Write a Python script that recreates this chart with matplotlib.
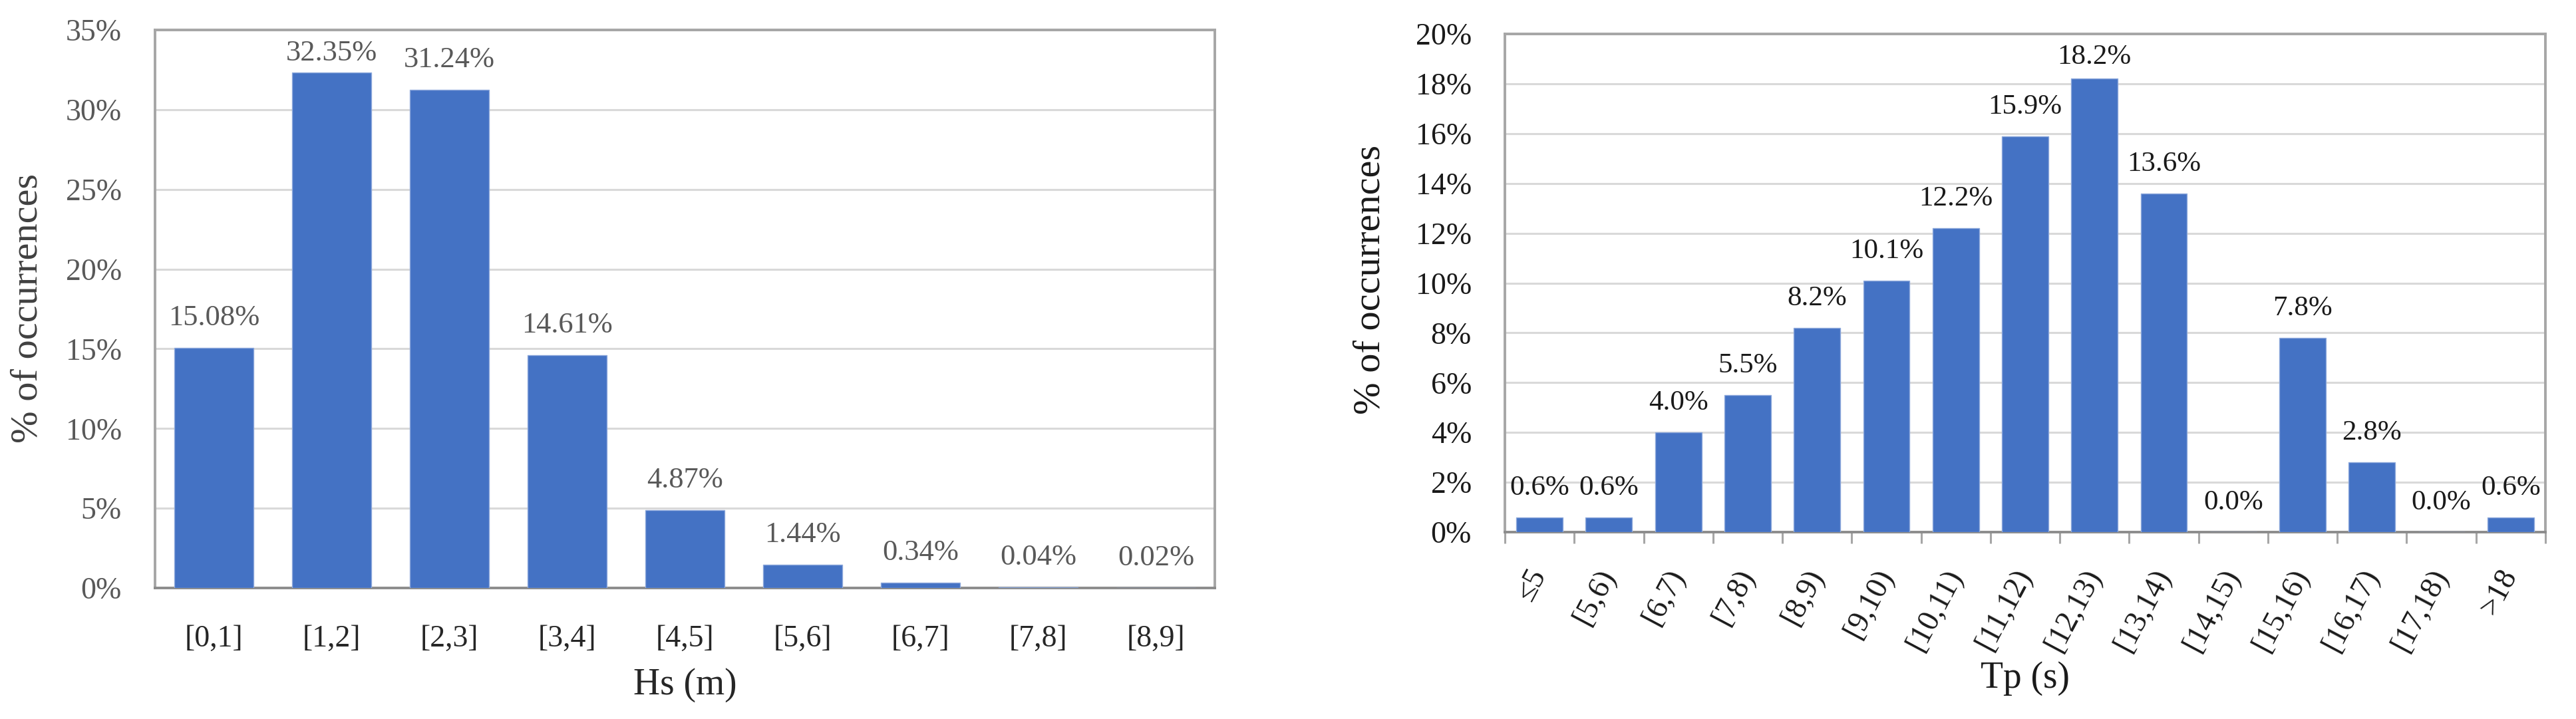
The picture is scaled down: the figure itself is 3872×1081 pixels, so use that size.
import matplotlib
matplotlib.use("Agg")
import matplotlib.pyplot as plt
from matplotlib.ticker import FuncFormatter, MultipleLocator
import numpy as np

# ---------------- data ----------------
hs_categories = ["[0,1]", "[1,2]", "[2,3]", "[3,4]", "[4,5]", "[5,6]", "[6,7]", "[7,8]", "[8,9]"]
hs_values = [15.08, 32.35, 31.24, 14.61, 4.87, 1.44, 0.34, 0.04, 0.02]

tp_categories = ["≤5", "[5,6)", "[6,7)", "[7,8)", "[8,9)", "[9,10)", "[10,11)", "[11,12)",
                 "[12,13)", "[13,14)", "[14,15)", "[15,16)", "[16,17)", "[17,18)", ">18"]
tp_values = [0.6, 0.6, 4.0, 5.5, 8.2, 10.1, 12.2, 15.9, 18.2, 13.6, 0.0, 7.8, 2.8, 0.0, 0.6]

hs_xlabel = "Hs (m)"
tp_xlabel = "Tp (s)"
ylabel = "% of occurrences"

# ---------------- style ----------------
W, H, DPI = 3872, 1081, 100
plt.rcParams['font.family'] = ['Liberation Serif', 'DejaVu Serif']
BAR = "#4472C4"
GRID = "#d9d9d9"
FRAME = "#a6a6a6"
AXIS = "#8c8c8c"

fig = plt.figure(figsize=(W / DPI, H / DPI), dpi=DPI)


def px(x0, y0, x1, y1):
    return [x0 / W, 1 - y1 / H, (x1 - x0) / W, (y1 - y0) / H]


def style_axes(ax, ymax, ystep, tcol):
    ax.set_ylim(0, ymax)
    ax.yaxis.set_major_locator(MultipleLocator(ystep))
    ax.yaxis.set_major_formatter(FuncFormatter(lambda v, p: f"{v:.0f}%"))
    ax.grid(axis='y', color=GRID, linewidth=2.2, zorder=0)
    ax.set_axisbelow(True)
    for s in ['top', 'right', 'left']:
        ax.spines[s].set_color(FRAME)
        ax.spines[s].set_linewidth(2.8)
    ax.spines['bottom'].set_color(AXIS)
    ax.spines['bottom'].set_linewidth(2.8)
    ax.tick_params(axis='y', length=0, pad=36, labelsize=33, labelcolor=tcol)


def data_labels(ax, xs, vals, fmt, size, color, axes_h_px, ymax):
    # labels sit 34 px above the bar; kept inside the plot frame like Excel does
    unit_px = axes_h_px / ymax
    for xi, v in zip(xs, vals):
        top_px = v * unit_px + 34 + 32
        if top_px > axes_h_px - 15:
            ax.annotate(fmt.format(v), (xi, ymax), xytext=(0, -15 * 72 / DPI),
                        textcoords='offset points', ha='center', va='top',
                        fontsize=size, color=color)
        else:
            ax.annotate(fmt.format(v), (xi, v), xytext=(0, 34 * 72 / DPI),
                        textcoords='offset points', ha='center', va='baseline',
                        fontsize=size, color=color)


# ---------------- left chart ----------------
L = (233, 45, 1826, 884)
ax1 = fig.add_axes(px(*L))
x1 = np.arange(len(hs_categories))
ax1.bar(x1, hs_values, width=0.667, color=BAR, edgecolor="#8faadc", linewidth=1.0, zorder=3)
ax1.set_xlim(-0.5, len(hs_categories) - 0.5)
style_axes(ax1, 35, 5, "#595959")
ax1.set_xticks(x1)
ax1.set_xticklabels(hs_categories)
ax1.tick_params(axis='x', length=0, pad=40, labelsize=33, labelcolor="#262626")
data_labels(ax1, x1, hs_values, "{:.2f}%", 32, "#595959", L[3] - L[1], 35)
fig.text(42 / W, 1 - 463 / H, ylabel, rotation=90, ha='center', va='center',
         fontsize=42, color="#404040")
fig.text(((L[0] + L[2]) / 2) / W, 1 - 1030 / H, hs_xlabel, ha='center', va='center',
         fontsize=40, color="#262626")

# ---------------- right chart ----------------
R = (2262, 51, 3826, 800)
ax2 = fig.add_axes(px(*R))
x2 = np.arange(len(tp_categories))
ax2.bar(x2, tp_values, width=0.67, color=BAR, edgecolor="#8faadc", linewidth=1.0, zorder=3)
ax2.set_xlim(-0.5, len(tp_categories) - 0.5)
style_axes(ax2, 20, 2, "#1a1a1a")
ax2.set_xticks(x2)
ax2.set_xticklabels(tp_categories, rotation=62, ha='right', va='center',
                    rotation_mode='anchor')
ax2.tick_params(axis='x', length=0, pad=42, labelsize=33, labelcolor="#1a1a1a")
ax2.set_xticks(np.arange(len(tp_categories) + 1) - 0.5, minor=True)
ax2.tick_params(axis='x', which='minor', length=12, width=2.2, color=FRAME, direction='out')
data_labels(ax2, x2, tp_values, "{:.1f}%", 31, "#1a1a1a", R[3] - R[1], 20)
fig.text(2060 / W, 1 - 420 / H, ylabel, rotation=90, ha='center', va='center',
         fontsize=42, color="#1a1a1a")
fig.text(((R[0] + R[2]) / 2) / W, 1 - 1020 / H, tp_xlabel, ha='center', va='center',
         fontsize=40, color="#1a1a1a")

fig.savefig("out.png", dpi=DPI, facecolor="white")
